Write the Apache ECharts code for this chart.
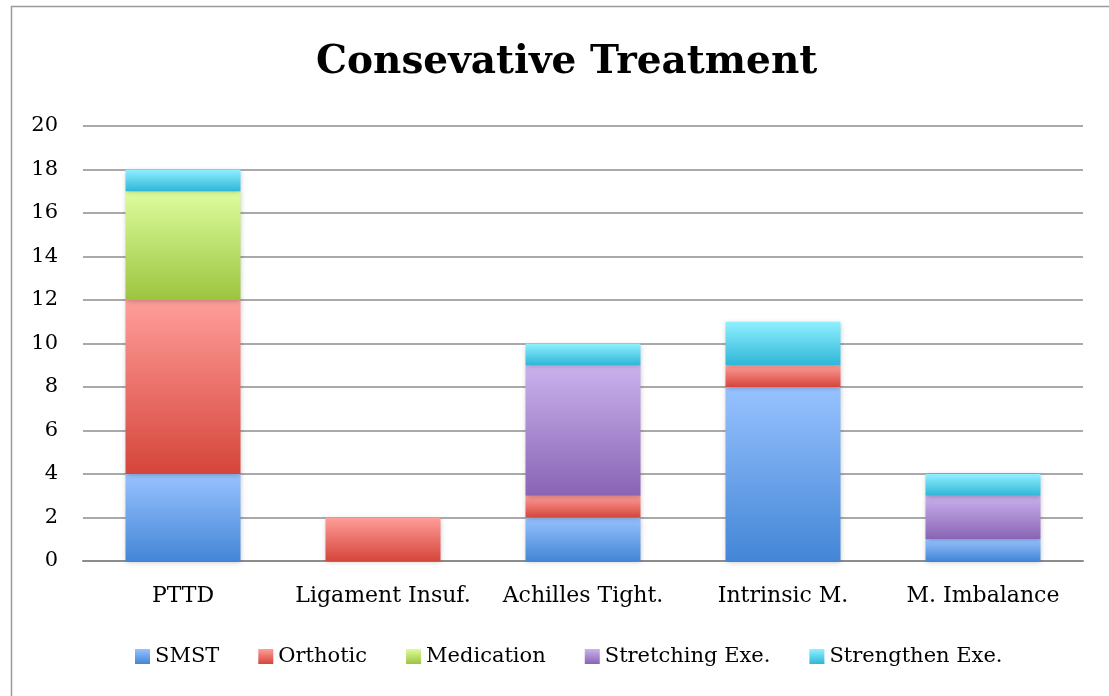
<!DOCTYPE html>
<html>
<head>
<meta charset="utf-8">
<script src="https://cdn.jsdelivr.net/npm/echarts@6/dist/echarts.min.js"></script>
<style>
  html, body { margin: 0; padding: 0; background: #fff; }
  #mychart { width: 1109px; height: 696px; }
</style>
</head>
<body>
<div id="mychart"></div>
<script>
// 类别与数据
var categories = ['PTTD', 'Ligament Insuf.', 'Achilles Tight.', 'Intrinsic M.', 'M. Imbalance'];
var smstData = [4, 0, 2, 8, 1];
var orthoticData = [8, 2, 1, 1, 0];
var medicationData = [5, 0, 0, 0, 0];
var stretchingData = [0, 0, 6, 0, 2];
var strengthenData = [1, 0, 1, 2, 1];

var fontFamily = '"DejaVu Serif", "Liberation Serif", serif';

function grad(top, bottom) {
  return new echarts.graphic.LinearGradient(0, 0, 0, 1, [
    { offset: 0, color: top },
    { offset: 1, color: bottom }
  ]);
}

function makeSeries(name, data, top, bottom) {
  return {
    name: name,
    type: 'bar',
    stack: 'total',
    barWidth: 115,
    data: data.map(function (v) { return v === 0 ? null : v; }),
    itemStyle: {
      color: grad(top, bottom),
      shadowBlur: 5,
      shadowColor: 'rgba(0,0,0,0.25)',
      shadowOffsetY: 1
    }
  };
}

var option = {
  animation: false,
  title: {
    text: 'Consevative Treatment',
    left: 311,
    top: 38,
    textStyle: { fontFamily: fontFamily, fontWeight: 'bold', fontSize: 39, color: '#000' }
  },
  graphic: [{
    type: 'rect',
    shape: { x: 11.5, y: 6.5, width: 1120, height: 720 },
    style: { fill: 'none', stroke: '#9a9a9a', lineWidth: 1.5 },
    silent: true
  }],
  legend: {
    bottom: 24,
    left: 130,
    itemWidth: 15,
    itemHeight: 15,
    itemGap: 39,
    icon: 'rect',
    textStyle: { fontFamily: fontFamily, fontSize: 21, color: '#000' },
    data: ['SMST', 'Orthotic', 'Medication', 'Stretching Exe.', 'Strengthen Exe.']
  },
  grid: { left: 83, right: 26, top: 126, bottom: 135 },
  xAxis: {
    type: 'category',
    data: categories,
    axisLine: { lineStyle: { color: '#8c8c8c', width: 2 } },
    axisTick: { show: false },
    axisLabel: { interval: 0, fontFamily: fontFamily, fontSize: 22, color: '#000', margin: 24 }
  },
  yAxis: {
    type: 'value',
    min: 0,
    max: 20,
    interval: 2,
    axisLine: { show: false },
    axisTick: { show: false },
    splitLine: { lineStyle: { color: '#8c8c8c', width: 1.5 } },
    axisLabel: { fontFamily: fontFamily, fontSize: 21, color: '#000', margin: 25 }
  },
  series: [
    makeSeries('SMST', smstData, '#98c2ff', '#4386d6'),
    makeSeries('Orthotic', orthoticData, '#ff9e9a', '#d5453a'),
    makeSeries('Medication', medicationData, '#ddfd9d', '#9cc43f'),
    makeSeries('Stretching Exe.', stretchingData, '#cab2ee', '#8963b4'),
    makeSeries('Strengthen Exe.', strengthenData, '#90f0ff', '#2fb6d7')
  ]
};

var myChart = echarts.init(document.getElementById('mychart'));
myChart.setOption(option);
window.addEventListener('resize', function () { myChart.resize(); });
</script>
</body>
</html>
